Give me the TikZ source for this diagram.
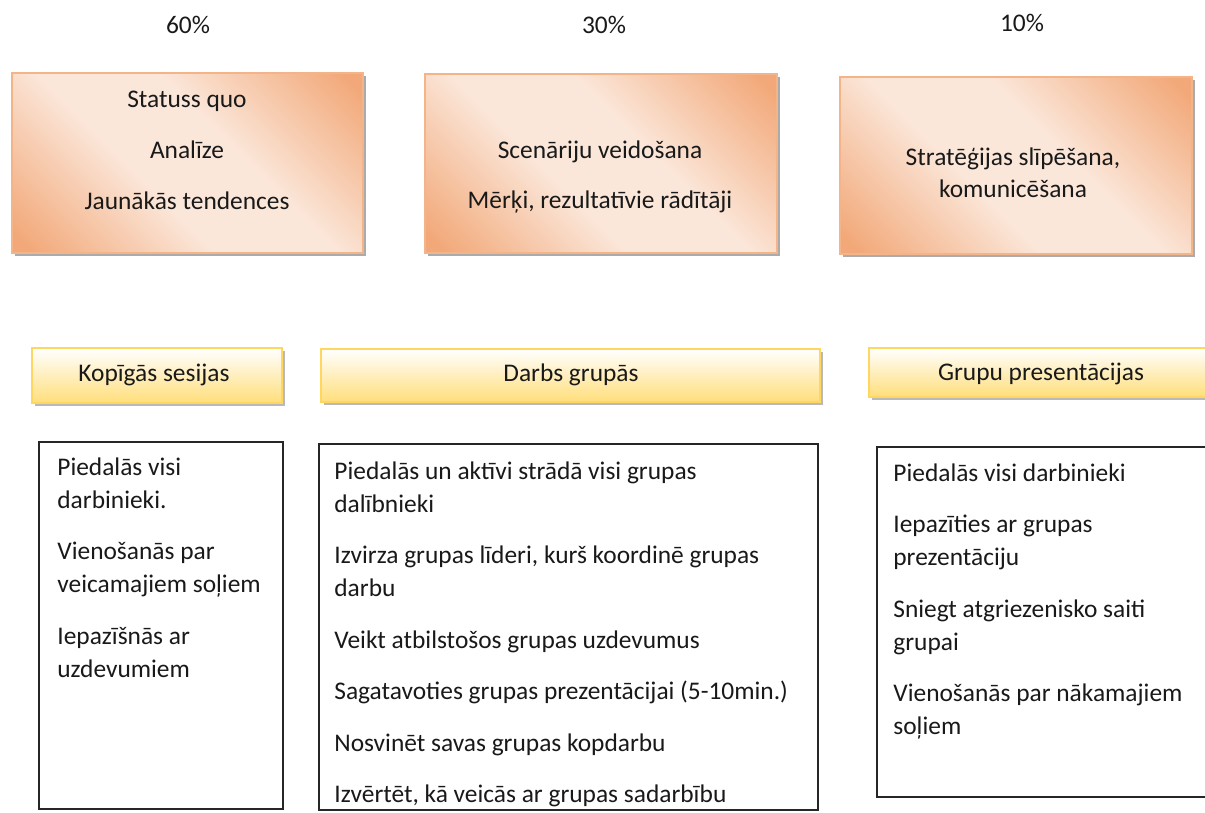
\documentclass[tikz,border=0pt]{standalone}
\usepackage{fontspec}
\setmainfont{Carlito}
\usetikzlibrary{shadows}
\definecolor{orangedark}{RGB}{242,168,120}
\definecolor{orangelight}{RGB}{251,231,218}
\definecolor{orangeline}{RGB}{244,180,138}
\definecolor{yellowdark}{RGB}{255,222,122}
\definecolor{yellowline}{RGB}{255,214,95}
\pgfdeclarehorizontalshading{phasefill}{100bp}{color(0bp)=(orangedark); color(17bp)=(orangedark);
  color(42bp)=(orangelight); color(58bp)=(orangelight); color(83bp)=(orangedark); color(100bp)=(orangedark)}
\begin{document}
\begin{tikzpicture}[x=0.5pt,y=-0.5pt,
    every node/.style={font=\fontsize{12.7}{16.5}\selectfont, inner sep=0pt, text=black!90},
    phase/.style={draw=orangeline, line width=0.6pt,
      shading=phasefill, shading angle=45,
      drop shadow={shadow xshift=1.5pt, shadow yshift=-1.5pt, fill=black!55, opacity=0.6}},
    header/.style={draw=yellowline, line width=0.6pt,
      top color=white, bottom color=yellowdark,
      drop shadow={shadow xshift=1.5pt, shadow yshift=-1.5pt, fill=black!55, opacity=0.5}},
    task/.style={draw=black!85, line width=0.6pt, fill=white},
    tasks/.style={align=left, anchor=north west}]
  \useasboundingbox (0,0) rectangle (1205,813);
  \clip (0,0) rectangle (1205,813);

  % shares
  \node[anchor=base] (share1) at (188,34) {60\%};
  \node[anchor=base] (share2) at (604,34) {30\%};
  \node[anchor=base] (share3) at (1022,32) {10\%};

  % phases
  \draw[phase] (12,73) coordinate (p1a) rectangle (363,253) coordinate (p1b);
  \node[anchor=base] (status) at (187,108) {Statuss quo};
  \node[anchor=base] (analysis) at (187,159) {Analīze};
  \node[anchor=base] (trends) at (187,209) {Jaunākās tendences};

  \draw[phase] (425,74) coordinate (p2a) rectangle (777,253) coordinate (p2b);
  \node[anchor=base] (scenarios) at (600,158) {Scenāriju veidošana};
  \node[anchor=base] (targets) at (600,208) {Mērķi, rezultatīvie rādītāji};

  \draw[phase] (840,77) coordinate (p3a) rectangle (1192,254) coordinate (p3b);
  \node[anchor=base] (strategy) at (1013,165) {Stratēģijas slīpēšana,};
  \node[anchor=base] (communication) at (1013,198) {komunicēšana};

  % headers
  \draw[header] (32,348) coordinate (h1a) rectangle (282,403) coordinate (h1b);
  \node[anchor=base] (sessions) at (154,381) {Kopīgās sesijas};
  \draw[header] (321,349) coordinate (h2a) rectangle (820,402) coordinate (h2b);
  \node[anchor=base] (groupwork) at (571,381) {Darbs grupās};
  \draw[header] (869,348) coordinate (h3a) rectangle (1215,397) coordinate (h3b);
  \node[anchor=base] (presentations) at (1041,380) {Grupu presentācijas};

  % task lists
  \draw[task] (39,442) coordinate (t1a) rectangle (283,809) coordinate (t1b);
  \node[tasks] (list1) at (57,457) {Piedalās visi\\darbinieki.\\[9.25pt]
    Vienošanās par\\veicamajiem soļiem\\[9.25pt]
    Iepazīšnās ar\\uzdevumiem};

  \draw[task] (319,444) coordinate (t2a) rectangle (818,810) coordinate (t2b);
  \begin{scope}
    \clip (319,444) rectangle (818,806);
    \node[tasks] (list2) at (334,461) {Piedalās un aktīvi strādā visi grupas\\dalībnieki\\[9.25pt]
      Izvirza grupas līderi, kurš koordinē grupas\\darbu\\[9.25pt]
      Veikt atbilstošos grupas uzdevumus\\[9.25pt]
      Sagatavoties grupas prezentācijai (5-10min.)\\[9.25pt]
      Nosvinēt savas grupas kopdarbu\\[9.25pt]
      Izvērtēt, kā veicās ar grupas sadarbību};
  \end{scope}

  \draw[task] (877,447) coordinate (t3a) rectangle (1240,797) coordinate (t3b);
  \node[tasks] (list3) at (893,463) {Piedalās visi darbinieki\\[9.25pt]
    Iepazīties ar grupas\\prezentāciju\\[9.25pt]
    Sniegt atgriezenisko saiti\\grupai\\[9.25pt]
    Vienošanās par nākamajiem\\soļiem};
\end{tikzpicture}
\end{document}
